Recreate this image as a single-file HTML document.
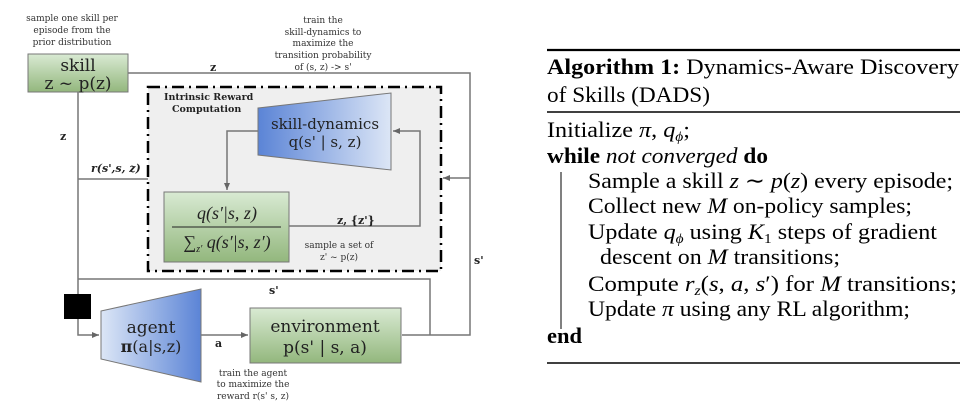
<!DOCTYPE html>
<html><head><meta charset="utf-8"><style>
body{margin:0;background:#fff}
svg{display:block}
.s{font-family:"Liberation Serif",serif}
.d{font-family:"DejaVu Serif","Liberation Serif",serif}
</style></head><body>
<svg width="976" height="416" viewBox="0 0 976 416" xmlns="http://www.w3.org/2000/svg">
<defs>
<linearGradient id="g" x1="0" y1="0" x2="0" y2="1"><stop offset="0" stop-color="#d9ead3"/><stop offset="1" stop-color="#93b77d"/></linearGradient>
<linearGradient id="b1" x1="0" y1="0" x2="1" y2="0"><stop offset="0" stop-color="#5b84d6"/><stop offset="1" stop-color="#dce6f6"/></linearGradient>
<linearGradient id="b2" x1="0" y1="0" x2="1" y2="0"><stop offset="0" stop-color="#dce6f6"/><stop offset="1" stop-color="#5b84d6"/></linearGradient>
<marker id="ar" markerWidth="8" markerHeight="8" refX="7" refY="3" orient="auto" markerUnits="userSpaceOnUse"><path d="M0,0 L7,3 L0,6 z" fill="#666"/></marker>
</defs>
<rect x="148" y="87" width="293" height="184" fill="#efefef" stroke="#000" stroke-width="2.5" stroke-dasharray="12,5,2,5"/>
<g stroke="#777" stroke-width="1.5" fill="none">
<polyline points="128,73 470,73 470,335 402,335"/>
<line x1="470" y1="178" x2="443" y2="178" marker-end="url(#ar)"/>
<polyline points="78,92 78,335 99,335" marker-end="url(#ar)"/>
<line x1="78" y1="179" x2="148" y2="179"/>
<polyline points="78,279 430,279 430,335"/>
<polyline points="258,131 227,131 227,190" marker-end="url(#ar)"/>
<polyline points="289,226 420,226 420,131 393,131" marker-end="url(#ar)"/>
<line x1="201" y1="335" x2="248" y2="335" marker-end="url(#ar)"/>
</g>
<rect x="28" y="54" width="100" height="38" fill="url(#g)" stroke="#777"/>
<text class="d" x="78" y="71" font-size="17" text-anchor="middle" fill="#222">skill</text>
<text class="d" x="78" y="89" font-size="17" text-anchor="middle" fill="#222">z ~ p(z)</text>
<polygon points="258,108 391,93 391,170 258,155" fill="url(#b1)" stroke="#777"/>
<text class="d" x="325" y="129" font-size="15" text-anchor="middle" fill="#222">skill-dynamics</text>
<text class="d" x="325" y="147" font-size="15" text-anchor="middle" fill="#222">q(s' | s, z)</text>
<rect x="164" y="192" width="125" height="70" fill="url(#g)" stroke="#777"/>
<text class="s" x="227" y="219" font-size="18" font-style="italic" text-anchor="middle" fill="#222">q(s′|s, z)</text>
<line x1="172" y1="227" x2="281" y2="227" stroke="#222" stroke-width="1"/>
<text class="s" x="227" y="248" font-size="18" font-style="italic" text-anchor="middle" fill="#222">∑<tspan font-size="10" dy="4">z′</tspan><tspan dy="-4"> q(s′|s, z′)</tspan></text>
<polygon points="101,311 201,289 201,382 101,359" fill="url(#b2)" stroke="#777"/>
<text class="d" x="151" y="333" font-size="17" text-anchor="middle" fill="#222">agent</text>
<text class="d" x="151" y="352" font-size="16" text-anchor="middle" fill="#222"><tspan font-weight="bold">π</tspan>(a|s,z)</text>
<rect x="250" y="308" width="151" height="55" fill="url(#g)" stroke="#777"/>
<text class="d" x="325" y="332" font-size="17" text-anchor="middle" fill="#222">environment</text>
<text class="d" x="325" y="353" font-size="17" text-anchor="middle" fill="#222">p(s' | s, a)</text>
<rect x="64" y="294" width="27" height="25" fill="#000"/>
<g class="d" fill="#333" font-size="9" text-anchor="middle">
<text x="72" y="21">sample one skill per</text><text x="72" y="33">episode from the</text><text x="72" y="45">prior distribution</text>
<text x="323" y="23">train the</text><text x="323" y="35">skill-dynamics to</text><text x="323" y="46">maximize the</text><text x="323" y="58">transition probability</text><text x="323" y="70">of (s, z) -&gt; s'</text>
<text x="339" y="248">sample a set of</text><text x="339" y="260">z' ~ p(z)</text>
<text x="253" y="376">train the agent</text><text x="253" y="387">to maximize the</text><text x="253" y="399">reward r(s' s, z)</text>
</g>
<g class="d" fill="#222" font-size="9.5" font-weight="bold">
<text x="164" y="100">Intrinsic Reward</text><text x="172" y="112">Computation</text>
</g>
<g class="d" fill="#222" font-size="11" font-weight="bold">
<text x="210" y="71">z</text><text x="60" y="140">z</text><text x="91" y="172" font-style="italic">r(s',s, z)</text>
<text x="337" y="224">z, {z'}</text><text x="269" y="294">s'</text><text x="215" y="347">a</text><text x="474" y="264">s'</text>
</g>
<g stroke="#000">
<line x1="547" y1="50" x2="960" y2="50" stroke-width="2.2"/>
<line x1="547" y1="112" x2="960" y2="112" stroke-width="1.5"/>
<line x1="547" y1="363" x2="960" y2="363" stroke-width="1.5"/>
<line x1="561" y1="172" x2="561" y2="329" stroke-width="1"/>
</g>
<g class="s" fill="#000" font-size="22" lengthAdjust="spacingAndGlyphs">
<text x="547" y="74" textLength="412" lengthAdjust="spacingAndGlyphs"><tspan font-weight="bold">Algorithm 1:</tspan> Dynamics-Aware Discovery</text>
<text x="547" y="102" textLength="163" lengthAdjust="spacingAndGlyphs">of Skills (DADS)</text>
<text x="547" y="137" textLength="143" lengthAdjust="spacingAndGlyphs">Initialize <tspan font-style="italic">π</tspan>, <tspan font-style="italic">q</tspan><tspan font-size="14" font-style="italic" dy="4">ϕ</tspan><tspan dy="-4">;</tspan></text>
<text x="547" y="163" textLength="221" lengthAdjust="spacingAndGlyphs"><tspan font-weight="bold">while</tspan> <tspan font-style="italic">not converged</tspan> <tspan font-weight="bold">do</tspan></text>
<text x="588" y="188" textLength="365" lengthAdjust="spacingAndGlyphs">Sample a skill <tspan font-style="italic">z</tspan> ∼ <tspan font-style="italic">p</tspan>(<tspan font-style="italic">z</tspan>) every episode;</text>
<text x="588" y="213" textLength="324" lengthAdjust="spacingAndGlyphs">Collect new <tspan font-style="italic">M</tspan> on-policy samples;</text>
<text x="588" y="239" textLength="349" lengthAdjust="spacingAndGlyphs">Update <tspan font-style="italic">q</tspan><tspan font-size="14" font-style="italic" dy="4">ϕ</tspan><tspan dy="-4"> using </tspan><tspan font-style="italic">K</tspan><tspan font-size="14" dy="4">1</tspan><tspan dy="-4"> steps of gradient</tspan></text>
<text x="600" y="264" textLength="240" lengthAdjust="spacingAndGlyphs">descent on <tspan font-style="italic">M</tspan> transitions;</text>
<text x="588" y="291" textLength="369" lengthAdjust="spacingAndGlyphs">Compute <tspan font-style="italic">r</tspan><tspan font-size="14" font-style="italic" dy="4">z</tspan><tspan dy="-4">(<tspan font-style="italic">s</tspan>, <tspan font-style="italic">a</tspan>, <tspan font-style="italic">s</tspan>′) for <tspan font-style="italic">M</tspan> transitions;</tspan></text>
<text x="588" y="316" textLength="322" lengthAdjust="spacingAndGlyphs">Update <tspan font-style="italic">π</tspan> using any RL algorithm;</text>
<text x="547" y="343" font-weight="bold" textLength="35" lengthAdjust="spacingAndGlyphs">end</text>
</g>
</svg>
</body></html>
